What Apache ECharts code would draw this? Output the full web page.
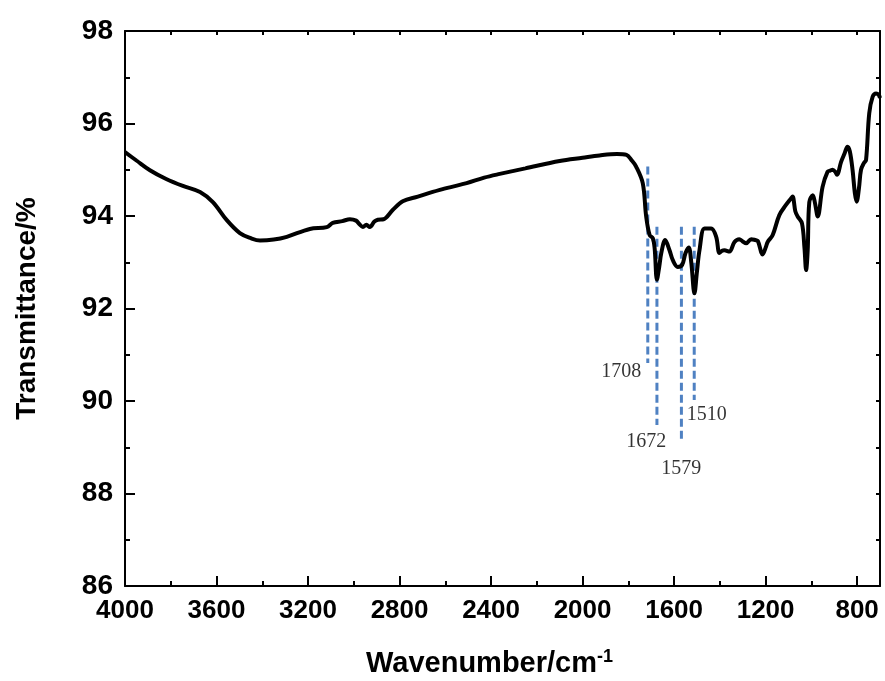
<!DOCTYPE html>
<html>
<head>
<meta charset="utf-8">
<title>FTIR spectrum</title>
<script src="https://cdn.jsdelivr.net/npm/echarts@6/dist/echarts.min.js"></script>
<style>
  html, body { margin: 0; padding: 0; background: #fff; }
  #chart { width: 885px; height: 681px; }
</style>
</head>
<body>
<div id="chart"></div>
<script>
// spectrum (wavenumber in cm-1, transmittance in %)
let wavenumber = [
  4000, 3950, 3891, 3820, 3747, 3672, 3616, 3555, 3498, 3450, 3410, 3350, 3293,
  3192, 3118, 3092, 3050, 3017, 2990, 2975, 2960, 2945, 2930, 2910, 2895, 2870,
  2830, 2786, 2720, 2655, 2580, 2507, 2430, 2362, 2250, 2100, 2000, 1926, 1850,
  1808, 1785, 1766, 1737, 1722, 1707, 1693, 1685, 1675, 1665, 1656, 1639, 1620,
  1606, 1584, 1565, 1550, 1536, 1525, 1511, 1500, 1489, 1467, 1438, 1416, 1402,
  1390, 1380, 1358, 1336, 1315, 1300, 1285, 1263, 1245, 1234, 1213, 1198, 1191,
  1169, 1140, 1111, 1089, 1082, 1070, 1060, 1041, 1030, 1023, 1016, 1009, 994,
  985, 972, 951, 929, 918, 907, 895, 888, 870, 855, 842, 832, 820, 810, 802, 792,
  783, 770, 761, 747, 732, 717, 706, 700
];
let transmittance = [
  95.38, 95.20, 94.99, 94.80, 94.65, 94.52, 94.30, 93.91, 93.63, 93.52, 93.47, 93.49, 93.55,
  93.72, 93.76, 93.85, 93.89, 93.93, 93.90, 93.82, 93.76, 93.81, 93.76, 93.88, 93.92, 93.93,
  94.13, 94.32, 94.42, 94.52, 94.62, 94.71, 94.83, 94.91, 95.03, 95.19, 95.26, 95.31, 95.34,
  95.32, 95.20, 95.07, 94.71, 93.99, 93.59, 93.52, 93.30, 92.62, 92.90, 93.20, 93.48, 93.26,
  93.05, 92.90, 92.94, 93.20, 93.32, 93.00, 92.33, 92.80, 93.26, 93.73, 93.73, 93.55, 93.20,
  93.25, 93.26, 93.23, 93.44, 93.50, 93.45, 93.41, 93.50, 93.48, 93.46, 93.17, 93.34, 93.44,
  93.59, 94.02, 94.24, 94.38, 94.42, 94.10, 93.99, 93.84, 93.30, 92.83, 93.26, 94.30, 94.45,
  94.30, 93.99, 94.63, 94.96, 94.98, 95.00, 94.95, 94.89, 95.17, 95.35, 95.50, 95.40, 95.00, 94.50, 94.31, 94.60,
  95.00, 95.15, 95.21, 96.22, 96.58, 96.65, 96.62, 96.55
];

// dashed peak markers
let peakPos = [1715, 1675, 1568, 1512];
let peakTop = [95.07, 93.77, 93.77, 93.77];
let peakBottom = [90.82, 89.48, 89.16, 90.02];
let peakLabels = ['1708', '1672', '1579', '1510'];
let labelX = [1831, 1722, 1569, 1457];
let labelY = [90.63, 89.12, 88.54, 89.70];

let xTicks = { min: 700, max: 4000, step: 400 };
let yTicks = { min: 86, max: 98, step: 2 };

var dom = document.getElementById('chart');
var myChart = echarts.init(dom, null, { renderer: 'canvas' });

// x is stored negated so that ticks count from 4000 down to 800
let spectrum = wavenumber.map((w, i) => [-w, transmittance[i]]);

let series = [{
  type: 'line',
  data: spectrum,
  showSymbol: false,
  smooth: 0.35,
  lineStyle: { color: '#000', width: 4 },
  z: 5
}];

for (let i = 0; i < peakPos.length; i++) {
  series.push({
    type: 'line',
    data: [[-peakPos[i], peakTop[i]], [-peakPos[i], peakBottom[i]]],
    showSymbol: false,
    lineStyle: { color: '#4f81c2', width: 3, type: [8, 4] },
    z: 4
  });
}

series.push({
  type: 'scatter',
  data: labelX.map((x, i) => ({ value: [-x, labelY[i]], name: peakLabels[i] })),
  symbolSize: 0,
  label: {
    show: true,
    position: 'inside',
    formatter: p => p.name,
    fontFamily: 'Liberation Serif',
    fontSize: 20,
    color: '#000'
  },
  z: 6
});

let axisLine = { show: true, onZero: false, lineStyle: { color: '#000', width: 2 } };

var option = {
  animation: false,
  backgroundColor: '#fff',
  grid: { left: 125, right: 5, top: 31, bottom: 95, outerBoundsMode: 'none', containLabel: false },
  xAxis: [{
    type: 'value',
    position: 'bottom',
    min: -xTicks.max,
    max: -xTicks.min,
    interval: xTicks.step,
    axisLine: axisLine,
    axisTick: { inside: true, length: 10, lineStyle: { color: '#000', width: 2 } },
    minorTick: { show: true, splitNumber: 2, length: 5, lineStyle: { color: '#000', width: 2 } },
    splitLine: { show: false },
    axisLabel: {
      margin: 12,
      fontFamily: 'Liberation Sans',
      fontWeight: 'bold',
      fontSize: 26,
      color: '#000',
      showMaxLabel: false,
      formatter: v => (Math.abs(v) === xTicks.min ? '' : String(Math.abs(v)))
    },
    name: 'Wavenumber/cm{sup|-1}',
    nameLocation: 'middle',
    nameGap: 62,
    nameTextStyle: {
      fontFamily: 'Liberation Sans',
      fontWeight: 'bold',
      fontSize: 29,
      color: '#000',
      padding: [0, 26, 0, 0],
      rich: {
        sup: {
          fontFamily: 'Liberation Sans',
          fontWeight: 'bold',
          fontSize: 18,
          color: '#000',
          verticalAlign: 'top',
          padding: [0, 0, 14, 0]
        }
      }
    }
  }, {
    type: 'value',
    position: 'top',
    min: -xTicks.max,
    max: -xTicks.min,
    interval: xTicks.step,
    axisLine: axisLine,
    axisTick: { inside: true, length: 4, lineStyle: { color: '#000', width: 2 } },
    minorTick: { show: true, splitNumber: 2, length: 4, lineStyle: { color: '#000', width: 2 } },
    splitLine: { show: false },
    axisLabel: { show: false }
  }],
  yAxis: [{
    type: 'value',
    position: 'left',
    min: yTicks.min,
    max: yTicks.max,
    interval: yTicks.step,
    axisLine: axisLine,
    axisTick: { inside: true, length: 10, lineStyle: { color: '#000', width: 2 } },
    minorTick: { show: true, splitNumber: 2, length: 5, lineStyle: { color: '#000', width: 2 } },
    splitLine: { show: false },
    axisLabel: {
      margin: 12,
      fontFamily: 'Liberation Sans',
      fontWeight: 'bold',
      fontSize: 28,
      color: '#000'
    },
    name: 'Transmittance/%',
    nameLocation: 'middle',
    nameGap: 84,
    nameTextStyle: {
      fontFamily: 'Liberation Sans',
      fontWeight: 'bold',
      fontSize: 28,
      color: '#000'
    }
  }, {
    type: 'value',
    position: 'right',
    min: yTicks.min,
    max: yTicks.max,
    interval: yTicks.step,
    axisLine: axisLine,
    axisTick: { inside: true, length: 4, lineStyle: { color: '#000', width: 2 } },
    minorTick: { show: true, splitNumber: 2, length: 4, lineStyle: { color: '#000', width: 2 } },
    splitLine: { show: false },
    axisLabel: { show: false }
  }],
  series: series
};

if (option && typeof option === 'object') {
  myChart.setOption(option);
}
</script>
</body>
</html>
